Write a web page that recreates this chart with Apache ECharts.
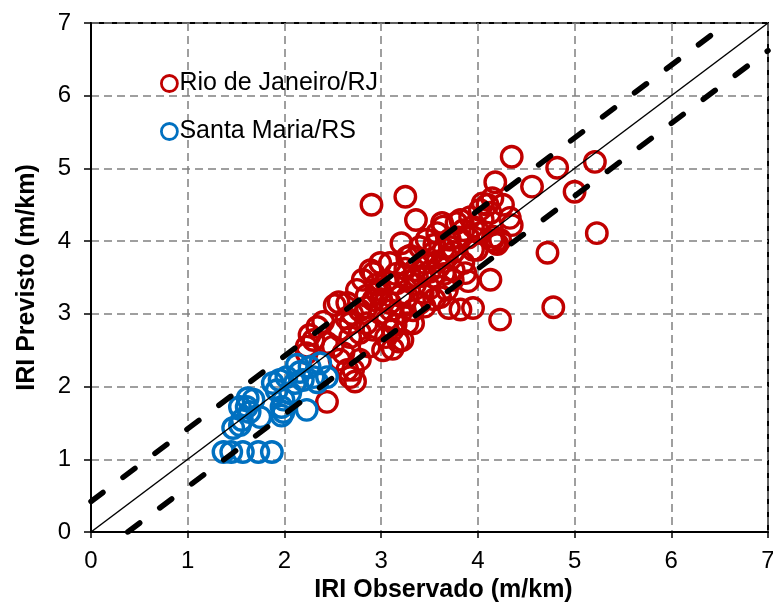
<!DOCTYPE html>
<html>
<head>
<meta charset="utf-8">
<script src="https://cdn.jsdelivr.net/npm/echarts@6/dist/echarts.min.js"></script>
<style>
  html, body { margin: 0; padding: 0; background: #fff; }
  #chart { width: 773px; height: 606px; }
</style>
</head>
<body>
<div id="chart"></div>
<script>
// Observed vs. predicted IRI (m/km), two test sites
const axisTicks = [0, 1, 2, 3, 4, 5, 6, 7];

const rioJaneiro = [
  [2.90, 4.50], [3.25, 4.61], [4.35, 5.16], [4.82, 5.01], [5.21, 5.09], [4.18, 4.81],
  [4.56, 4.75], [5.00, 4.68], [5.23, 4.11], [4.72, 3.84], [4.78, 3.09], [4.23, 2.92],
  [4.13, 3.47], [3.36, 4.29], [4.05, 4.52],
  [4.15, 4.59], [4.26, 4.50], [4.10, 4.50], [4.02, 4.43], [4.33, 4.32], [4.13, 4.39],
  [3.92, 4.33], [3.82, 4.29], [4.35, 4.22], [4.16, 4.06], [4.23, 4.02], [4.18, 3.98],
  [4.20, 3.96], [4.15, 4.01], [3.95, 3.88], [3.87, 3.56], [3.95, 3.08], [3.82, 3.06],
  [3.70, 3.08], [3.68, 3.33], [3.64, 4.20], [3.71, 3.92], [3.63, 4.25], [3.78, 4.25],
  [3.21, 3.97], [3.47, 4.02], [3.58, 4.11], [3.71, 4.02], [3.85, 4.15], [4.02, 4.11],
  [3.09, 3.70], [3.27, 3.78], [3.40, 3.92], [3.54, 3.84], [3.68, 3.78], [3.85, 3.70],
  [3.99, 3.88], [2.92, 3.56], [2.75, 3.33], [2.99, 3.33], [3.16, 3.42], [3.37, 3.51],
  [3.54, 3.51], [3.74, 3.47], [3.61, 3.23],
  [2.65, 3.15], [2.78, 3.05], [2.92, 3.19], [3.09, 3.15], [3.27, 3.23], [3.43, 3.29],
  [3.20, 3.01], [2.68, 2.87], [2.85, 2.87], [3.06, 2.92], [3.27, 2.87], [3.33, 3.05],
  [2.78, 2.74], [3.12, 2.78],
  [2.26, 2.71], [2.23, 2.55], [2.34, 2.82], [2.40, 2.89], [2.52, 3.12], [2.44, 2.60],
  [2.57, 2.78], [2.64, 2.94], [2.68, 2.68], [2.71, 2.23], [2.73, 2.07], [2.61, 2.46],
  [2.81, 3.47], [2.89, 3.60], [2.99, 3.70], [2.96, 3.29], [2.85, 3.09], [2.99, 3.01],
  [2.92, 2.78], [3.02, 2.50], [2.44, 1.79], [2.65, 2.23], [2.23, 2.46], [2.30, 2.64],
  [2.57, 2.37], [2.78, 2.37], [2.68, 2.13], [3.12, 2.52], [3.22, 2.64], [3.33, 2.87],
  [3.15, 3.55], [3.25, 3.62], [3.45, 3.70], [3.50, 3.58], [3.60, 3.65], [3.35, 3.40],
  [3.05, 3.45], [3.20, 3.25], [3.40, 3.15], [3.50, 3.35], [3.10, 3.05], [2.95, 3.40],
  [3.30, 3.80], [3.55, 3.95], [3.65, 3.90], [3.75, 3.85], [3.80, 4.05], [3.95, 4.20],
  [4.05, 4.30], [3.90, 4.05], [3.00, 3.20], [2.85, 3.25], [2.70, 3.00], [3.15, 2.85],
  [3.45, 3.10], [3.65, 3.55], [3.75, 3.60], [3.90, 3.45], [3.35, 3.60], [3.55, 3.20],
  [2.56, 3.16], [2.50, 2.55], [2.88, 2.55], [3.18, 2.62], [3.05, 2.68], [3.42, 3.52],
  [3.58, 3.72], [3.28, 3.45]
];

const santaMaria = [
  [1.37, 1.10], [1.45, 1.10], [1.57, 1.10], [1.73, 1.10], [1.87, 1.10],
  [1.47, 1.43], [1.54, 1.47], [1.56, 1.54], [1.61, 1.72], [1.68, 1.82], [1.64, 1.65],
  [1.75, 1.58], [1.92, 1.95], [1.95, 2.09], [1.99, 1.82], [1.97, 1.72], [2.06, 1.91],
  [2.13, 2.30], [2.16, 2.20], [2.19, 2.09], [2.23, 1.68], [2.26, 2.27], [2.37, 2.32],
  [2.44, 2.13], [2.02, 2.13], [1.88, 2.05], [2.11, 2.05], [2.30, 2.13], [2.34, 2.06],
  [1.99, 1.65], [1.54, 1.72], [1.97, 1.60], [1.62, 1.84]
];

// 1:1 line and the upper / lower dashed bounds
const identityLine = [[0, 0], [7, 7]];
const upperBound = [[0, 0.42], [6.58, 7]];
const lowerBound = [[0.38, 0], [7, 6.62]];

const FONT = '"Liberation Sans", Arial, sans-serif';

const gridLine = { show: true, lineStyle: { color: '#808080', type: [8, 5], width: 1.5 } };

const chart = echarts.init(document.getElementById('chart'), null, { renderer: 'canvas' });

chart.setOption({
  backgroundColor: '#ffffff',
  animation: false,
  grid: {
    left: 91, right: 5, top: 23, bottom: 74,
    containLabel: false, outerBoundsMode: 'none',
    show: true, borderColor: '#000', borderWidth: 2, backgroundColor: 'transparent'
  },
  legend: {
    orient: 'vertical',
    left: 155, top: 66,
    itemGap: 23,
    itemWidth: 16, itemHeight: 16,
    icon: 'circle',
    itemStyle: { borderWidth: 2.8 },
    textStyle: { fontFamily: FONT, fontSize: 25, color: '#000', padding: [0, 0, 0, -3] },
    data: ['Rio de Janeiro/RJ', 'Santa Maria/RS']
  },
  xAxis: {
    type: 'value', min: 0, max: 7, interval: 1,
    name: 'IRI Observado (m/km)', nameLocation: 'middle', nameGap: 45,
    nameTextStyle: { fontFamily: FONT, fontSize: 25, fontWeight: 'bold', color: '#000', padding: [0, 0, 0, 28] },
    axisLine: { show: true, onZero: false, lineStyle: { color: '#000', width: 2 } },
    axisTick: { show: true, inside: false, length: 6, lineStyle: { color: '#000', width: 1.5 } },
    axisLabel: {
      fontFamily: FONT, fontSize: 24, color: '#000', margin: 17,
      formatter: v => axisTicks.includes(v) ? String(v) : ''
    },
    splitLine: gridLine
  },
  yAxis: {
    type: 'value', min: 0, max: 7, interval: 1,
    name: 'IRI Previsto (m/km)', nameLocation: 'middle', nameGap: 51,
    nameTextStyle: { fontFamily: FONT, fontSize: 25, fontWeight: 'bold', color: '#000' },
    axisLine: { show: true, onZero: false, lineStyle: { color: '#000', width: 2 } },
    axisTick: { show: true, inside: false, length: 7, lineStyle: { color: '#000', width: 1.5 } },
    axisLabel: {
      fontFamily: FONT, fontSize: 24, color: '#000', margin: 20,
      formatter: v => axisTicks.includes(v) ? String(v) : ''
    },
    splitLine: gridLine
  },
  series: [
    {
      name: 'Rio de Janeiro/RJ', type: 'scatter', data: rioJaneiro,
      symbol: 'circle', symbolSize: 20.5, z: 2,
      itemStyle: { color: 'rgba(255,255,255,0)', borderColor: '#C00000', borderWidth: 3.4, opacity: 1 },
      emphasis: { disabled: true }
    },
    {
      name: 'Santa Maria/RS', type: 'scatter', data: santaMaria,
      symbol: 'circle', symbolSize: 20.5, z: 3,
      itemStyle: { color: 'rgba(255,255,255,0)', borderColor: '#0070C0', borderWidth: 3.4, opacity: 1 },
      emphasis: { disabled: true }
    },
    {
      name: 'identity', type: 'line', data: identityLine, symbol: 'none', z: 4,
      lineStyle: { color: '#000', width: 1.5 }, silent: true
    },
    {
      name: 'upper', type: 'line', data: upperBound, symbol: 'none', z: 4,
      lineStyle: { color: '#000', width: 5.5, type: [15, 25], cap: 'round' }, silent: true
    },
    {
      name: 'lower', type: 'line', data: lowerBound, symbol: 'none', z: 4,
      lineStyle: { color: '#000', width: 5.5, type: [15, 25], cap: 'round' }, silent: true
    }
  ]
});
</script>
</body>
</html>
